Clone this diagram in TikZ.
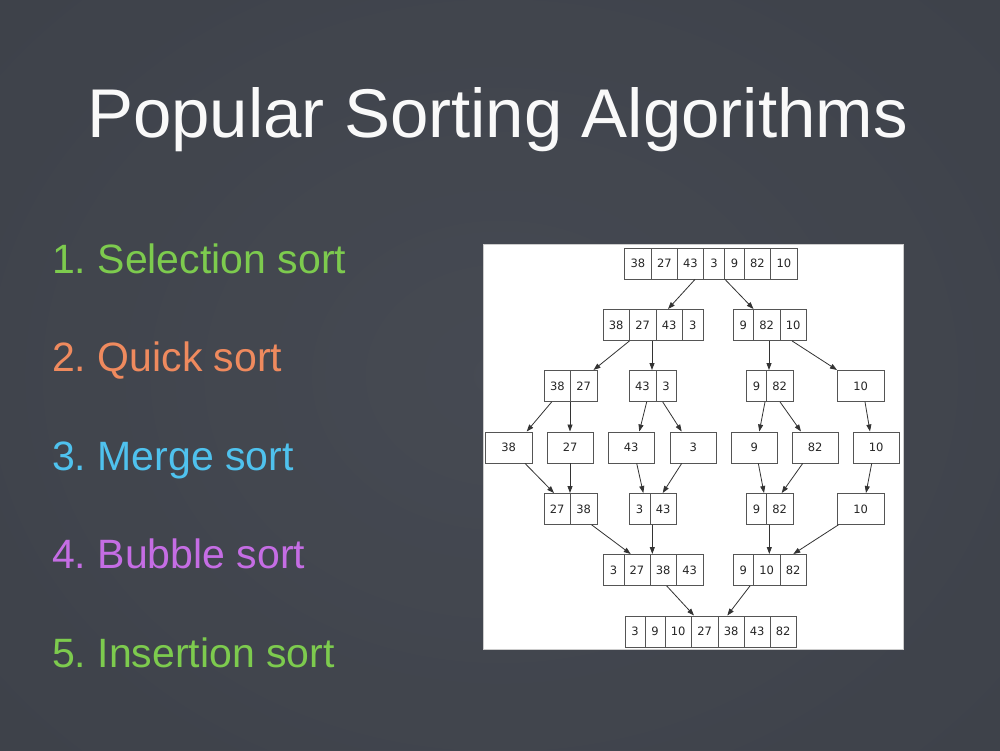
\documentclass[tikz,border=0pt]{standalone}
\usepackage{fontspec}
\setmainfont{Liberation Sans}
\newfontfamily\cellfont{DejaVu Sans}
\usetikzlibrary{calc,arrows.meta}
\definecolor{board}{HTML}{3E424A}
\definecolor{boardlight}{HTML}{4B4F58}
\definecolor{cgreen}{HTML}{7DCB4E}
\definecolor{corange}{HTML}{EF8A5E}
\definecolor{ccyan}{HTML}{4FC2EE}
\definecolor{cpurple}{HTML}{C56DE4}
\definecolor{linegray}{HTML}{555555}
\definecolor{arrowgray}{HTML}{333333}
\frenchspacing
\tikzset{
  cellbox/.style={draw=linegray, line width=0.9pt, inner sep=0pt, minimum height=31pt,
    font=\cellfont\fontsize{11.5}{11.5}\selectfont, text=black!85},
  groupbox/.style={draw=linegray, line width=0.9pt, inner sep=0pt, minimum height=31pt},
  arr/.style={draw=arrowgray, line width=0.8pt, -{Triangle[length=7pt,width=5pt]}},
  titletext/.style={inner sep=0pt, anchor=base, text=white!95!gray,
    font=\fontsize{69}{69}\selectfont},
  itemtext/.style={inner sep=0pt, anchor=base west, font=\fontsize{41}{41}\selectfont}
}
\newcommand\cellrow[4]{%
  \xdef\cx{#2}%
  \foreach \w/\t [count=\i] in {#4}{%
    \node[cellbox, minimum width=\w pt, anchor=north west] (#1-\i) at (\cx,#3) {\t};
    \pgfmathsetmacro\nx{\cx+\w}\xdef\cx{\nx}%
  }%
  \pgfmathsetmacro\gw{\cx-#2}%
  \node[groupbox, minimum width=\gw pt, anchor=north west] (#1) at (#2,#3) {};
}
\newcommand\conn[4]{\draw[arr] ($(#1.south west)+(#2,0)$) -- ($(#3.north west)+(#4,0)$);}
\begin{document}
\begin{tikzpicture}[x=1pt,y=-1pt]
\useasboundingbox (0,0) rectangle (1000,750);
\shade[inner color=boardlight, outer color=board] (-200,-200) rectangle (1200,950);
\fill[board, opacity=0.35] (0,0) rectangle (1000,750);

% title
\node[titletext] (title) at (497.5,137.3) {Popular Sorting Algorithms};

% list
\node[itemtext, text=cgreen]  (l1) at (52,273)   {1. Selection sort};
\node[itemtext, text=corange] (l2) at (52,371.5) {2. Quick sort};
\node[itemtext, text=ccyan]   (l3) at (52,470)   {3. Merge sort};
\node[itemtext, text=cpurple] (l4) at (52,568.5) {4. Bubble sort};
\node[itemtext, text=cgreen]  (l5) at (52,667)   {5. Insertion sort};

% panel
\fill[white, draw=gray!40, line width=0.6pt] (483,244.5) rectangle (903,649.5);

% rows
\cellrow{r1}{624}{247.5}{27/38, 26/27, 26/43, 21/3, 20/9, 26/82, 27/10}
\cellrow{r2a}{602.5}{309}{26.5/38, 26.5/27, 26.5/43, 20.5/3}
\cellrow{r2b}{732.5}{309}{20.5/9, 26.5/82, 26.5/10}
\cellrow{r3a}{544}{370}{26/38, 26.5/27}
\cellrow{r3b}{628.5}{370}{27/43, 20/3}
\cellrow{r3c}{746}{370}{20/9, 26.5/82}
\cellrow{r3d}{837}{370}{46.5/10}
\cellrow{r4a}{485}{431.5}{46.5/38}
\cellrow{r4b}{546.5}{431.5}{46.5/27}
\cellrow{r4c}{607.5}{431.5}{46.5/43}
\cellrow{r4d}{669.5}{431.5}{46.5/3}
\cellrow{r4e}{730.5}{431.5}{46.5/9}
\cellrow{r4f}{791.5}{431.5}{46.5/82}
\cellrow{r4g}{852.5}{431.5}{46.5/10}
\cellrow{r5a}{543.5}{493}{26.5/27, 26.5/38}
\cellrow{r5b}{628.5}{493}{21/3, 26.5/43}
\cellrow{r5c}{746}{493}{20/9, 26.5/82}
\cellrow{r5d}{837}{493}{46.5/10}
\cellrow{r6a}{602.5}{554}{21/3, 26/27, 26.5/38, 26.5/43}
\cellrow{r6b}{732.5}{554}{20.5/9, 26.5/10, 26.5/82}
\cellrow{r7}{624.5}{615.5}{20/3, 20/9, 26.5/10, 26.5/27, 26.5/38, 25.5/43, 26.5/82}

% connectors
\conn{r1}{71}{r2a}{65.5}
\conn{r1}{101}{r2b}{21}
\conn{r2a}{27}{r3a}{49.5}
\conn{r2a}{49.5}{r3b}{23.5}
\conn{r2b}{36.5}{r3c}{23}
\conn{r2b}{59.5}{r3d}{0}
\conn{r3a}{7.7}{r4a}{41.7}
\conn{r3a}{26}{r4b}{23.5}
\conn{r3b}{18.2}{r4c}{31.8}
\conn{r3b}{34.2}{r4d}{12.2}
\conn{r3c}{19}{r4e}{28.8}
\conn{r3c}{34}{r4f}{9.5}
\conn{r3d}{28}{r4g}{17.5}
\conn{r4a}{40}{r5a}{10.5}
\conn{r4b}{23.5}{r5a}{26.5}
\conn{r4c}{29.2}{r5b}{14.8}
\conn{r4d}{12.2}{r5b}{34.2}
\conn{r4e}{27.8}{r5c}{18}
\conn{r4f}{11.2}{r5c}{35.7}
\conn{r4g}{19.2}{r5d}{29}
\conn{r5a}{48.2}{r6a}{28.2}
\conn{r5b}{23.8}{r6a}{49.8}
\conn{r5c}{23.3}{r6b}{36.8}
\conn{r5d}{1.3}{r6b}{60.8}
\conn{r6a}{64.2}{r7}{69.5}
\conn{r6b}{17.5}{r7}{102.8}
\end{tikzpicture}
\end{document}
